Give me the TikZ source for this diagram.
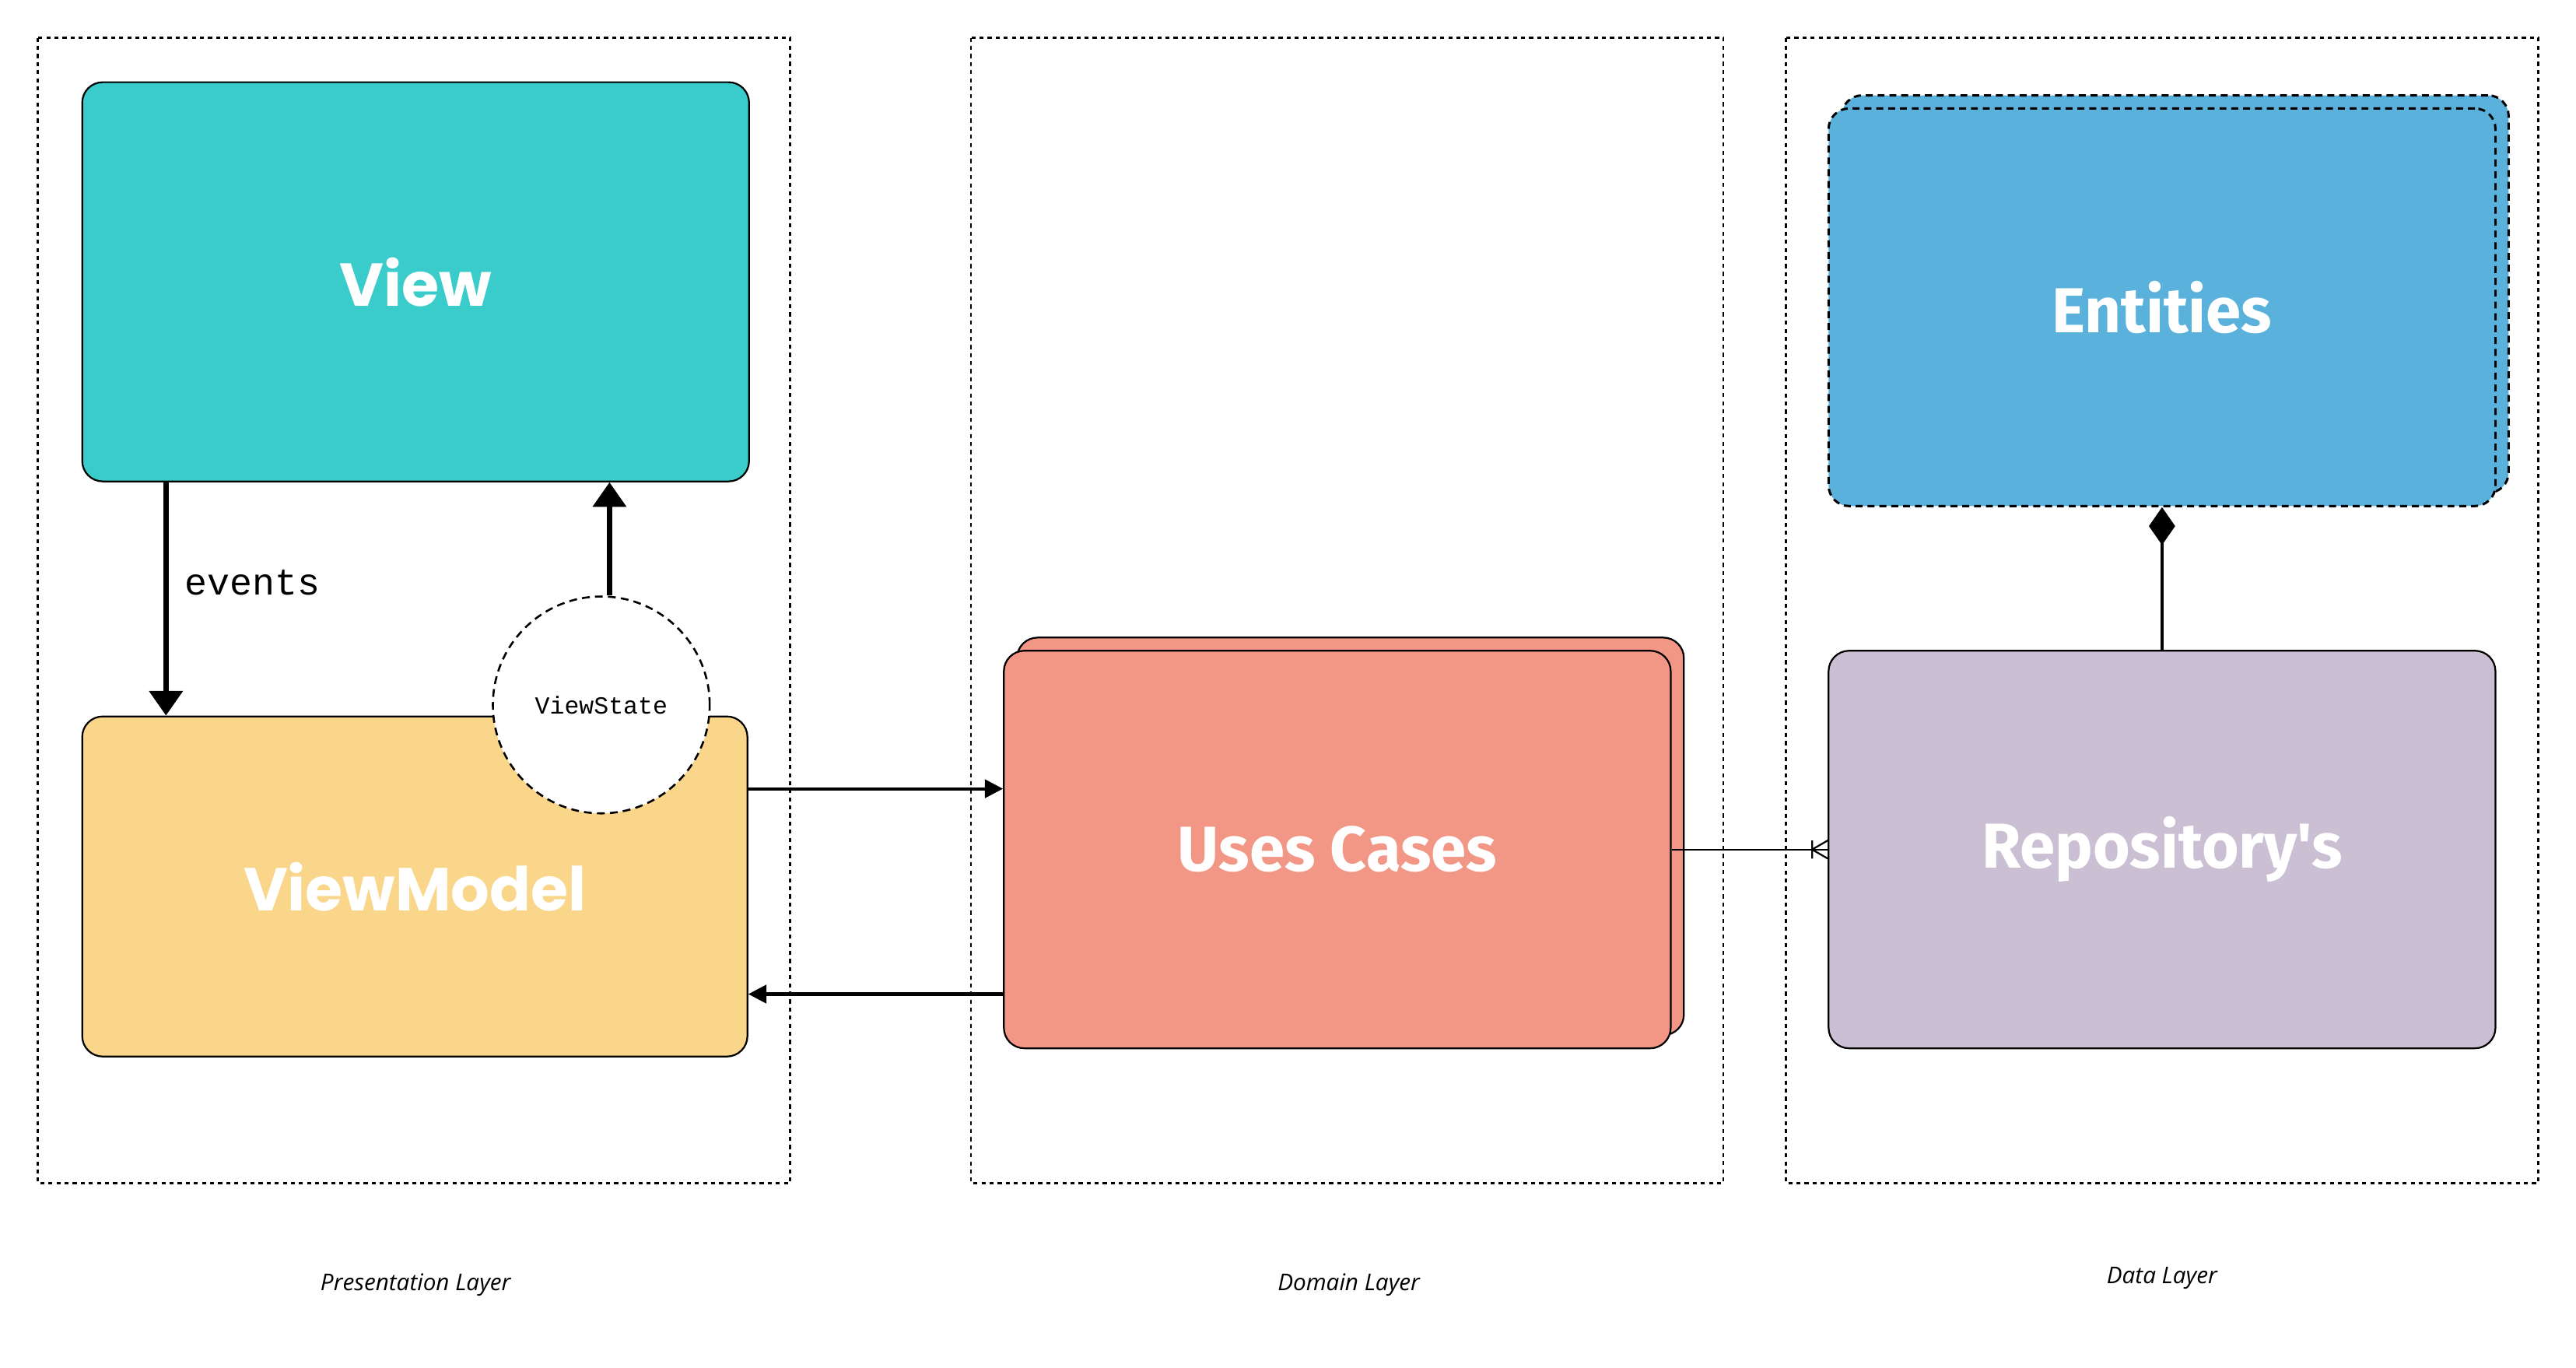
\documentclass[tikz,border=0pt]{standalone}
\usepackage{fontspec}
\setsansfont{Open Sans}
\setmonofont{Liberation Mono}
\newfontfamily\widefont{Poppins}
\newfontfamily\condfont{Fira Sans}
\usetikzlibrary{arrows.meta, positioning}

\definecolor{viewcol}{HTML}{3ACBCB}
\definecolor{vmcol}{HTML}{F9D68A}
\definecolor{uccol}{HTML}{F29685}
\definecolor{repocol}{HTML}{CBC0D3}
\definecolor{entcol}{HTML}{5AB1DB}

\begin{document}
\begin{tikzpicture}[x=0.02cm, y=-0.02cm,
    layer/.style = {draw, line width=0.7pt, dash pattern=on 1.4pt off 1.4pt},
    box/.style = {draw, line width=0.6pt, rounded corners=0.25cm, inner sep=0pt,
        minimum width=8.12cm, minimum height=4.84cm, text=white,
        font=\condfont\bfseries\fontsize{22}{26}\selectfont},
    wide/.style = {font=\widefont\bfseries\fontsize{21}{25}\selectfont},
    dashbox/.style = {dash pattern=on 2.4pt off 1.7pt, line width=0.8pt},
    caption/.style = {font=\sffamily\itshape\fontsize{8}{9}\selectfont},
    flow/.style = {line width=1.1pt, -{Triangle[width=0.22cm, length=0.22cm]}},
    bigflow/.style = {line width=1.8pt, -{Triangle[width=0.4cm, length=0.3cm]}},
    link/.style = {line width=0.6pt}]

    \useasboundingbox (0,0) rectangle (1568,832.5);

    % layers
    \draw [layer] (23,23) rectangle (481,720);
    \draw [layer] (591,23) rectangle (1049,720);
    \draw [layer] (1087,23) rectangle (1545,720);
    \node (lp) [caption] at (253,782) {Presentation Layer};
    \node (ld) [caption] at (821,782) {Domain Layer};
    \node (lt) [caption] at (1316,778) {Data Layer};

    % presentation
    \node (view) [box, wide, fill=viewcol, minimum height=4.86cm] at (253,171.5) {View};
    \node (vm) [box, wide, fill=vmcol, minimum width=8.1cm, minimum height=4.14cm] at (252.5,539.5) {ViewModel};

    % domain
    \node (ucb) [box, fill=uccol] at (822,509) {};
    \node (uc) [box, fill=uccol] at (814,517) {Uses Cases};

    % data
    \node (entb) [box, dashbox, fill=entcol] at (1324,179) {};
    \node (ent) [box, dashbox, fill=entcol] at (1316,187) {Entities};
    \node (repo) [box, fill=repocol] at (1316,517) {Repository's};

    \draw [bigflow] ([xshift=-3.04cm]view.south) -- ([xshift=-3.04cm]view.south |- vm.north)
        node [pos=0.43, right=0.08cm, font=\ttfamily\fontsize{13}{15}\selectfont] {events};

    \node (vs) [circle, draw, fill=white, dash pattern=on 2.7pt off 1.8pt, line width=0.7pt,
        minimum size=2.64cm, font=\ttfamily\fontsize{8.5}{10}\selectfont] at (366,429) {ViewState};
    \draw [bigflow] ([xshift=0.1cm]vs.north) -- ([xshift=0.1cm]vs.north |- view.south);

    \draw [flow] ([yshift=1.19cm]vm.east) -- ([yshift=1.19cm]vm.east -| uc.west);
    \draw [flow] ([yshift=-1.31cm]vm.east -| uc.west) -- ([yshift=-1.31cm]vm.east);

    % one or many
    \draw [link] (uc.east) -- (repo.west);
    \draw [link] ([xshift=-0.19cm]repo.west) -- ([yshift=0.11cm]repo.west)
        ([xshift=-0.19cm]repo.west) -- ([yshift=-0.11cm]repo.west)
        ([xshift=-0.19cm, yshift=0.11cm]repo.west) -- ([xshift=-0.19cm, yshift=-0.11cm]repo.west);

    \draw [line width=1pt, -{Diamond[width=0.32cm, length=0.46cm]}] (repo.north) -- (ent.south);
\end{tikzpicture}
\end{document}
